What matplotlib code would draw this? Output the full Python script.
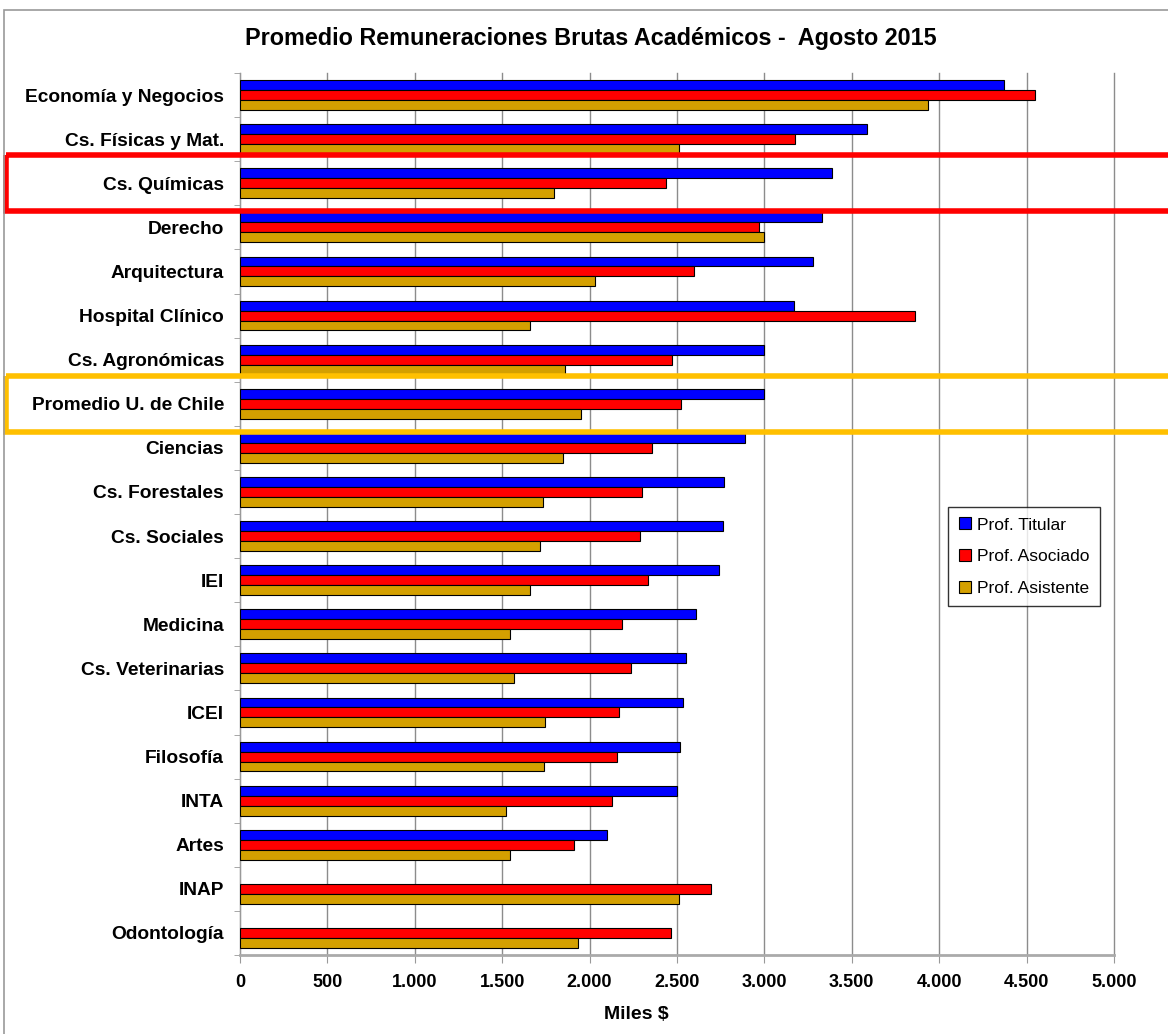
import numpy as np
import matplotlib
matplotlib.use("Agg")
import matplotlib.pyplot as plt
from matplotlib.patches import Rectangle
from matplotlib.lines import Line2D
import matplotlib.transforms as mtransforms

plt.rcParams['font.family'] = ['Liberation Sans', 'DejaVu Sans']

categorias = ["Economía y Negocios", "Cs. Físicas y Mat.", "Cs. Químicas", "Derecho",
              "Arquitectura", "Hospital Clínico", "Cs. Agronómicas", "Promedio U. de Chile",
              "Ciencias", "Cs. Forestales", "Cs. Sociales", "IEI", "Medicina",
              "Cs. Veterinarias", "ICEI", "Filosofía", "INTA", "Artes", "INAP", "Odontología"]
titular = [4368, 3588, 3388, 3329, 3276, 3167, 2996, 2996, 2891, 2769, 2763, 2740, 2608,
           2549, 2533, 2516, 2500, 2102, np.nan, np.nan]
asociado = [4549, 3177, 2437, 2970, 2595, 3861, 2473, 2523, 2355, 2299, 2286, 2332, 2187,
            2237, 2167, 2154, 2131, 1911, 2694, 2467]
asistente = [3937, 2510, 1799, 3000, 2029, 1661, 1858, 1950, 1845, 1733, 1714, 1661, 1543,
             1566, 1743, 1737, 1523, 1543, 2510, 1931]
series = ["Prof. Titular", "Prof. Asociado", "Prof. Asistente"]
colores = ["#0000FF", "#FF0000", "#D4A000"]
xticks = [0, 500, 1000, 1500, 2000, 2500, 3000, 3500, 4000, 4500, 5000]
xticklabels = ["0", "500", "1.000", "1.500", "2.000", "2.500", "3.000", "3.500", "4.000", "4.500", "5.000"]

fig = plt.figure(figsize=(11.68, 10.34), dpi=100)
ax = fig.add_axes([240/1168, 1-955/1034, (1114-240)/1168, (955-73)/1034])

y = np.arange(len(categorias))
h = 0.225
for i, (vals, c) in enumerate(zip([titular, asociado, asistente], colores)):
    ax.barh(y + (i-1)*h, vals, height=h, color=c, edgecolor="black", linewidth=0.8,
            label=series[i], zorder=3)

ax.set_xlim(0, 5000)
ax.set_ylim(len(categorias)-0.5, -0.5)
ax.set_xticks(xticks)
ax.set_xticklabels(xticklabels, fontsize=13, fontweight="bold")
ax.set_yticks(y)
ax.set_yticklabels(categorias, fontsize=13.8, fontweight="bold")
ax.set_yticks(np.arange(len(categorias)+1)-0.5, minor=True)
ax.tick_params(axis="y", which="major", length=0, pad=11.5)
ax.tick_params(axis="y", which="minor", length=4, color="#999999", direction="out")
ax.tick_params(axis="x", length=6, color="#999999", direction="out", pad=8)
ax.grid(axis="x", color="#8c8c8c", linewidth=1, zorder=0)
for gl in ax.get_xgridlines():
    gl.set_clip_on(False)
for s in ["top", "right"]:
    ax.spines[s].set_visible(False)
ax.spines["left"].set_color("#999999")
ax.spines["bottom"].set_color("#aaaaaa")
ax.spines["bottom"].set_linewidth(2)

ax.set_xlabel("Miles $", fontsize=14, fontweight="bold", labelpad=10)
ax.xaxis.set_label_coords(0.454, -0.058)
fig.text(0.506, 0.963, "Promedio Remuneraciones Brutas Académicos -  Agosto 2015",
         ha="center", va="center", fontsize=16.8, fontweight="bold")

handles = [Line2D([], [], marker="s", linestyle="none", markerfacecolor=c,
                  markeredgecolor="black", markersize=8, markeredgewidth=0.8) for c in colores]
leg = ax.legend(handles, series, loc="upper left", bbox_to_anchor=(0.81, 0.508),
                fontsize=12.5, frameon=True, fancybox=False, edgecolor="black",
                handlelength=0.8, handletextpad=0.3, labelspacing=0.95, borderpad=0.6,
                borderaxespad=0)
leg.get_frame().set_linewidth(1)

# highlight boxes (x in figure coords, y in data coords)
trans = mtransforms.blended_transform_factory(fig.transFigure, ax.transData)
for idx, col in [(2, "#FF0000"), (7, "#FFC000")]:
    ax.add_patch(Rectangle((6/1168, idx-0.63), 1.0, 1.26, transform=trans, fill=False,
                           edgecolor=col, linewidth=4, clip_on=False, zorder=5))

# outer border
fig.patches.append(Rectangle((4/1168, -0.01), 1.2, 1-10/1034+0.01, transform=fig.transFigure,
                             fill=False, edgecolor="#999999", linewidth=1.2))

fig.savefig("out.png", dpi=100)
